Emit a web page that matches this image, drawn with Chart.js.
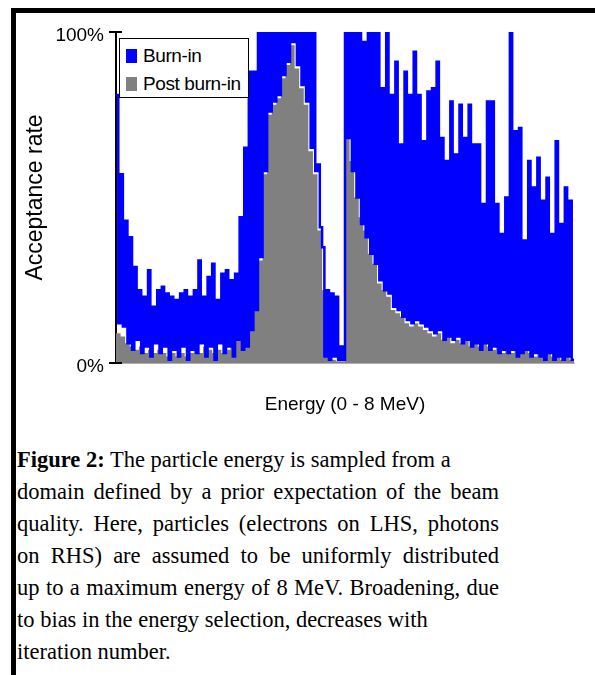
<!DOCTYPE html>
<html>
<head>
<meta charset="utf-8">
<script src="https://cdn.jsdelivr.net/npm/chart.js@4"></script>
<style>
  body { margin: 0; background: #fff; width: 595px; height: 675px; overflow: hidden; position: relative; }
  #frame { position: absolute; left: 11px; top: 8px; right: 0; bottom: 0; border-top: 5px solid #000; border-left: 5px solid #000; }
  #chartBox { position: absolute; left: 0; top: 0; }
  #legend { position: absolute; left: 119px; top: 38px; width: 130px; height: 60px; box-sizing: border-box; border: 1.5px solid #000; background: #fff; font: 19px "Liberation Sans", Arial, sans-serif; color: #000; letter-spacing: -0.4px; }
  .item { position: absolute; left: 6px; height: 28px; display: flex; align-items: center; white-space: nowrap; }
  .swatch { width: 11px; height: 14px; margin-right: 6px; }
  #caption { position: absolute; left: 17px; top: 444px; width: 482px; font: 22.5px "Liberation Serif", "Times New Roman", serif; line-height: 32px; color: #000; }
  #caption div { white-space: nowrap; }
  #caption .j { text-align: justify; text-align-last: justify; }
</style>
</head>
<body>
<div id="frame"></div>
<div id="chartBox"><canvas id="acceptChart" width="595" height="430"></canvas></div>
<div id="legend"></div>
<div id="caption">
  <div><b>Figure 2:</b> The particle energy is sampled from a</div>
  <div class="j">domain defined by a prior expectation of the beam</div>
  <div class="j">quality. Here, particles (electrons on LHS, photons</div>
  <div class="j">on RHS) are assumed to be uniformly distributed</div>
  <div class="j">up to a maximum energy of 8 MeV. Broadening, due</div>
  <div>to bias in the energy selection, decreases with</div>
  <div>iteration number.</div>
</div>
<script>
// energy range of the x axis (MeV)
const energyMax = 8;
const yTicks = [0, 100];

// burn-in acceptance, upper and lower swing of each energy bin (%)
const burnHigh = [
  81, 57, 43, 38, 29, 22, 20, 28, 17, 22,
  23, 21, 20, 19, 21, 22, 20, 22, 31, 20,
  26, 30, 19, 27, 28, 25, 27, 44, 65, 88,
  88, 100, 100, 100, 100, 100, 100, 100, 100, 100,
  100, 100, 100, 100, 60, 35, 22, 21, 20, 5,
  100, 100, 100, 100, 97, 100, 100, 100, 83, 100,
  81, 91, 66, 88, 81, 94, 81, 67, 82, 83,
  91, 68, 61, 79, 63, 78, 68, 78, 66, 66,
  48, 79, 79, 48, 39, 50, 100, 70, 71, 37,
  61, 53, 62, 49, 56, 39, 67, 42, 53, 49
];
const burnLow = [
  12, 11, 6, 4, 7, 3, 5, 2, 6, 3,
  5, 1, 4, 2, 5, 1, 4, 3, 6, 2,
  5, 1, 6, 3, 5, 2, 7, 4, 5, 10,
  16, 32, 58, 76, 79, 81, 87, 91, 97, 90,
  84, 79, 65, 58, 41, 2, 1, 2, 1, 1,
  68, 58, 50, 42, 38, 33, 30, 25, 22, 21,
  17, 16, 14, 13, 12, 13, 12, 11, 10, 9,
  10, 7, 8, 7, 8, 6, 7, 5, 6, 4,
  6, 4, 5, 3, 4, 3, 4, 2, 3, 4,
  2, 3, 2, 1, 3, 1, 2, 1, 2, 1
];
// post burn-in acceptance per energy bin (%)
const postBurn = [
  9, 8, 6, 5, 4, 5, 3, 4, 3, 4,
  3, 2, 3, 2, 3, 2, 3, 4, 3, 5,
  4, 3, 4, 3, 4, 6, 8, 9, 10, 12,
  16, 31, 57, 75, 78, 80, 86, 90, 96, 89,
  83, 78, 64, 57, 40, 22, 7, 1, 0.5, 0.5,
  68, 61, 50, 44, 40, 33, 30, 24, 22, 20,
  16, 15, 14, 12, 11, 12, 11, 10, 9, 8,
  9, 7, 8, 6, 7, 6, 7, 5, 6, 5,
  6, 5, 4, 5, 3, 4, 3, 4, 5, 4,
  3, 2, 3, 2, 3, 2, 2, 1, 2, 1
];

// interleave the swings into one noisy trace
const burnIn = [];
burnHigh.forEach((h, k) => burnIn.push(h, burnLow[k]));

// spread bins evenly over 0..energyMax, closing point keeps the last step
function toSteps(values) {
  const pts = values.map((v, i) => ({ x: i * energyMax / values.length, y: v }));
  pts.push({ x: energyMax, y: values[values.length - 1] });
  return pts;
}

Chart.defaults.font.family = '"Liberation Sans", Arial, sans-serif';
Chart.defaults.color = '#000';

// tick marks cross the axis, draw the inner half
const innerTicks = {
  id: 'innerTicks',
  afterDraw(chart) {
    const { ctx, chartArea, scales: { y } } = chart;
    ctx.save();
    ctx.strokeStyle = '#000';
    ctx.lineWidth = 2;
    y.ticks.forEach(t => {
      const py = y.getPixelForValue(t.value);
      ctx.beginPath();
      ctx.moveTo(chartArea.left, py);
      ctx.lineTo(chartArea.left + 6, py);
      ctx.stroke();
    });
    ctx.restore();
  }
};

const ctx = document.getElementById('acceptChart').getContext('2d');
const chart = new Chart(ctx, {
  type: 'line',
  data: {
    datasets: [
      {
        label: 'Burn-in',
        data: toSteps(burnIn),
        stepped: true,
        borderColor: '#0000ff',
        backgroundColor: '#0000ff',
        borderWidth: 2.5,
        pointRadius: 0,
        fill: false
      },
      {
        label: 'Post burn-in',
        data: toSteps(postBurn),
        stepped: true,
        borderColor: '#808080',
        backgroundColor: '#808080',
        borderWidth: 0,
        pointRadius: 0,
        fill: 'origin'
      }
    ]
  },
  options: {
    responsive: false,
    animation: false,
    events: [],
    layout: { padding: { left: 0, right: 21, top: 32, bottom: 0 } },
    plugins: {
      legend: { display: false },
      tooltip: { enabled: false }
    },
    scales: {
      x: {
        type: 'linear',
        min: 0,
        max: energyMax,
        ticks: { display: false },
        grid: { display: false },
        border: { display: true, color: '#b0b0b0', dash: [1, 2] },
        title: {
          display: true,
          text: 'Energy (0 - 8 MeV)',
          font: { size: 19 },
          padding: { top: 0, bottom: 14 }
        },
        afterFit: s => { s.height = 67; }
      },
      y: {
        min: 0,
        max: 100,
        afterBuildTicks: s => { s.ticks = yTicks.map(v => ({ value: v })); },
        ticks: {
          callback: v => v + '%',
          font: { size: 19 },
          padding: 5,
          labelOffset: 4
        },
        grid: { drawOnChartArea: false, tickLength: 7, color: '#000', lineWidth: 2 },
        border: { color: '#000', width: 2 },
        title: {
          display: true,
          text: 'Acceptance rate',
          font: { size: 23 },
          padding: { top: 22, bottom: 0 }
        },
        afterFit: s => { s.width = 116; }
      }
    }
  },
  plugins: [innerTicks]
});

// legend sits inside the plot, top left
const legendBox = document.getElementById('legend');
chart.data.datasets.forEach((ds, i) => {
  const item = document.createElement('div');
  item.className = 'item';
  item.style.top = (3 + i * 28) + 'px';
  const sw = document.createElement('span');
  sw.className = 'swatch';
  sw.style.background = ds.backgroundColor;
  item.appendChild(sw);
  item.appendChild(document.createTextNode(ds.label));
  legendBox.appendChild(item);
});
</script>
</body>
</html>
